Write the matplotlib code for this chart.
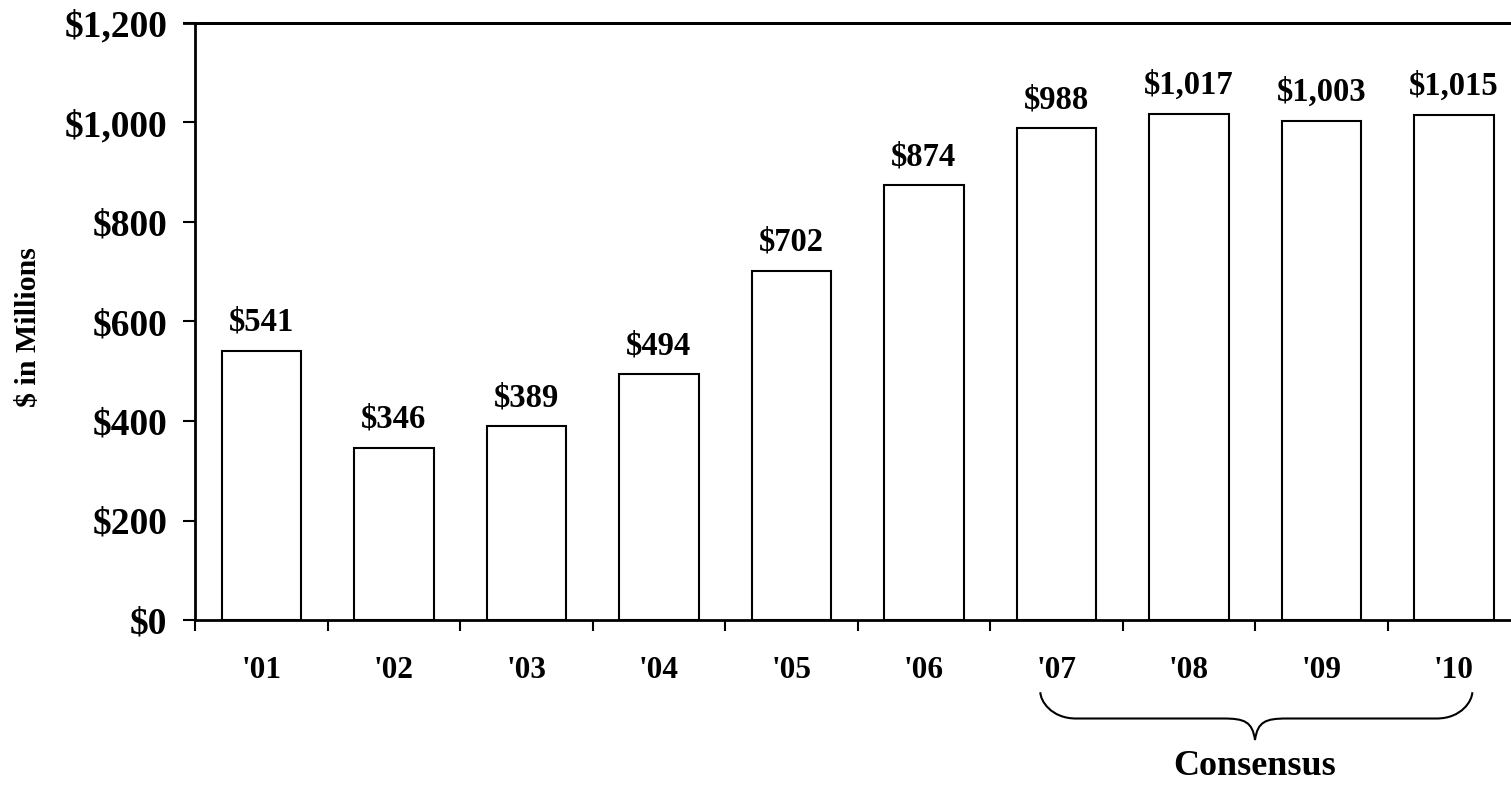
import numpy as np
import matplotlib.pyplot as plt
from matplotlib.path import Path
from matplotlib.patches import PathPatch
import matplotlib.transforms as mtransforms

plt.rcParams['font.family'] = ['Liberation Serif', 'DejaVu Serif']
plt.rcParams['font.weight'] = 'bold'

years = ["'01", "'02", "'03", "'04", "'05", "'06", "'07", "'08", "'09", "'10"]
values = [541, 346, 389, 494, 702, 874, 988, 1017, 1003, 1015]
yticks = [0, 200, 400, 600, 800, 1000, 1200]
consensus_from, consensus_to = 6, 9

fig = plt.figure(figsize=(15.11, 7.85), dpi=100)
ax = fig.add_axes([195/1511, 1-620/785, 1325/1511, 597/785])

x = np.arange(len(years))
ax.bar(x, values, width=0.6, color='white', edgecolor='black', linewidth=1.5)
for xi, v in zip(x, values):
    ax.text(xi, v + 26, '${:,}'.format(v), ha='center', va='bottom', fontsize=23.5, fontweight='bold')

ax.set_xlim(-0.5, len(years) - 0.5)
ax.set_ylim(0, 1200)
ax.set_yticks(yticks)
ax.set_yticklabels(['${:,}'.format(t) for t in yticks], fontsize=27, fontweight='bold')
ax.set_xticks(x)
ax.set_xticklabels(years, fontsize=22.5, fontweight='bold')
ax.set_xticks(np.arange(len(years) + 1) - 0.5, minor=True)
ax.tick_params(axis='x', which='major', length=0, pad=26)
ax.tick_params(axis='x', which='minor', length=8, width=1.5, direction='out')
ax.tick_params(axis='y', length=9, width=1.5, direction='out', pad=11)
ax.set_ylabel('$ in Millions', fontsize=21.5, fontweight='bold', va='center')
ax.yaxis.set_label_coords(-0.126, 0.49)

for s in ['left', 'bottom', 'top']:
    ax.spines[s].set_linewidth(2)
ax.spines['right'].set_visible(False)
ax.plot([-0.58, len(years)], [1200, 1200], color='black', lw=2, clip_on=False)

# curly brace under the consensus years
trans = mtransforms.blended_transform_factory(ax.transData, ax.transAxes)
x0 = consensus_from - 0.12
x1 = consensus_to + 0.14
xm = (consensus_from + consensus_to) / 2
yt, yh, yb = -0.121, -0.165, -0.201
verts = [(x0, yt), (x0, yh + 0.03), (x0 + 0.08, yh), (x0 + 0.27, yh),
         (xm - 0.24, yh), (xm - 0.08, yh), (xm - 0.02, yh - 0.005), (xm, yb),
         (xm + 0.02, yh - 0.005), (xm + 0.08, yh), (xm + 0.24, yh),
         (x1 - 0.27, yh), (x1 - 0.08, yh), (x1, yh + 0.03), (x1, yt)]
codes = [Path.MOVETO, Path.CURVE4, Path.CURVE4, Path.CURVE4,
         Path.LINETO, Path.CURVE4, Path.CURVE4, Path.CURVE4,
         Path.CURVE4, Path.CURVE4, Path.CURVE4,
         Path.LINETO, Path.CURVE4, Path.CURVE4, Path.CURVE4]
ax.add_patch(PathPatch(Path(verts, codes), transform=trans, fill=False, lw=1.5,
                       edgecolor='black', clip_on=False))
ax.text(xm, -0.246, 'Consensus', transform=trans, ha='center', va='center',
        fontsize=26, fontweight='bold')

fig.savefig('out.png', dpi=100)
